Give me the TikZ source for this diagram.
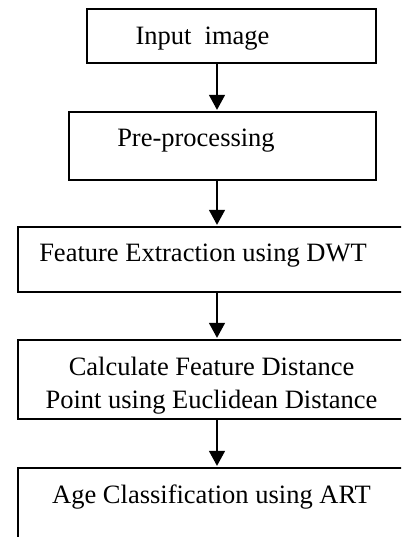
\documentclass[tikz,border=0pt]{standalone}
\usepackage{fontspec}
\setmainfont{Liberation Serif}
\usetikzlibrary{arrows.meta}

\begin{document}
\begin{tikzpicture}[x=1pt, y=-1pt,
    box/.style={draw, line width=1.3pt, rectangle, inner sep=0pt},
    lbl/.style={anchor=base, inner sep=0pt, font=\fontsize{26.5}{33}\selectfont, align=center},
    arr/.style={line width=1.4pt, -{Triangle[width=16pt,length=15pt]}, shorten >=1.5pt}]
    \useasboundingbox (0,0) rectangle (401,537);
    \clip (0,0) rectangle (401,537);
    \node[box, minimum width=289pt, minimum height=54pt] (input) at (231.5,36) {};
    \node[box, minimum width=307pt, minimum height=68pt] (prep) at (222.5,146) {};
    \node[box, minimum width=402pt, minimum height=65pt] (dwt) at (219,259.5) {};
    \node[box, minimum width=402pt, minimum height=79pt] (dist) at (219,379.5) {};
    \node[box, minimum width=402pt, minimum height=92pt] (art) at (219,514) {};
    \node[lbl] (tinput) at (202.5,45) {Input\ \ image};
    \node[lbl] (tprep) at (196,146.5) {Pre-processing};
    \node[lbl] (tdwt) at (203,261) {Feature Extraction using DWT};
    \node[lbl] (tdist) at (211.5,408) {Calculate Feature Distance\\Point using Euclidean Distance};
    \node[lbl] (tart) at (211.5,503) {Age Classification using ART};
    \coordinate (ax) at (217,0);
    \draw[arr] (input.south -| ax) -- (prep.north -| ax);
    \draw[arr] (prep.south -| ax) -- (dwt.north -| ax);
    \draw[arr] (dwt.south -| ax) -- (dist.north -| ax);
    \draw[arr] (dist.south -| ax) -- (art.north -| ax);
\end{tikzpicture}
\end{document}
